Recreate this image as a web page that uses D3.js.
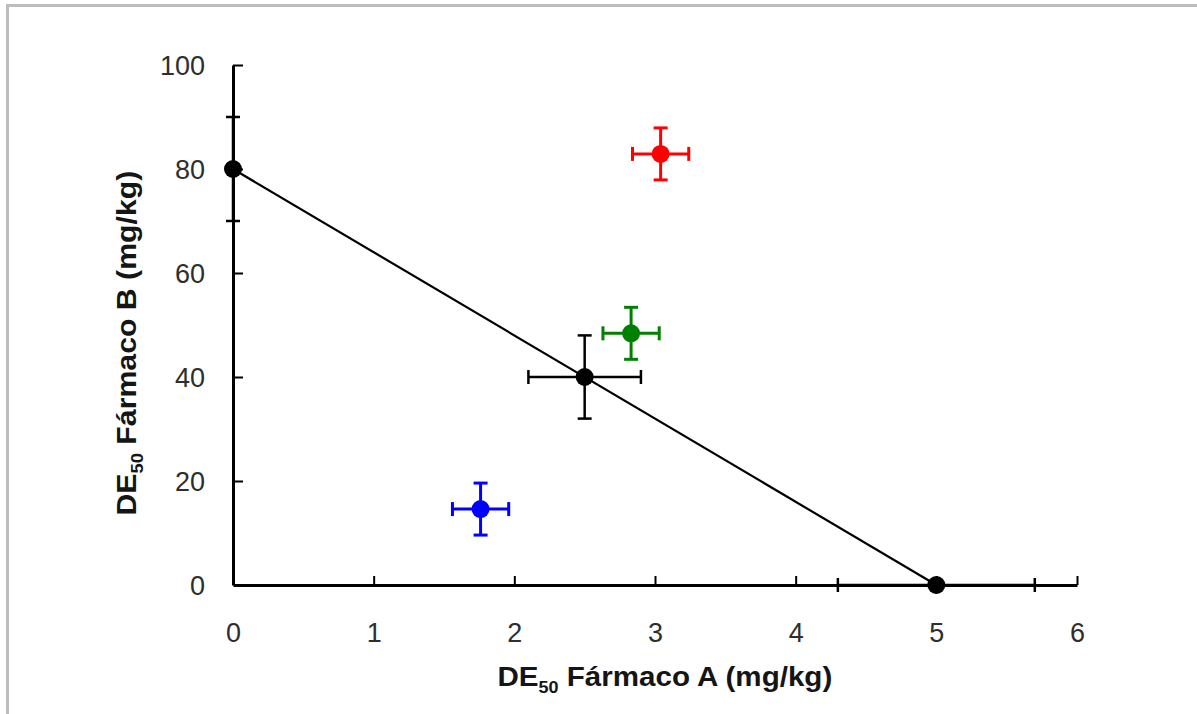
<!DOCTYPE html>
<html><head><meta charset="utf-8">
<script src="https://cdn.jsdelivr.net/npm/d3@7"></script>
<style>body{margin:0;background:#fff}svg{display:block}</style>
</head><body>
<svg id="c" width="1197" height="714"></svg>
<script>
// Data
const pointNames = ["A sola", "B sola", "Aditivo teórico", "Sinergia", "Aditivo", "Antagonismo"];
const doseA = [0, 5, 2.5, 1.76, 2.83, 3.04];
const doseB = [80, 0, 40, 14.6, 48.4, 82.9];
const errA = [0, 0.7, 0.4, 0.2, 0.2, 0.2];
const errB = [10, 0, 8, 5, 5, 5];
const pointColors = ["#000", "#000", "#000", "#0000ff", "#008000", "#ff0000"];
const lineA = [0, 5];
const lineB = [80, 0];
const xTicks = [0, 1, 2, 3, 4, 5, 6];
const yTicks = [0, 20, 40, 60, 80, 100];

const svg = d3.select("#c");
const ff = "Liberation Sans, Arial, sans-serif";
// frame
svg.append("line").attr("x1", 6).attr("x2", 1197).attr("y1", 5.5).attr("y2", 5.5).attr("stroke", "#bdbdbd").attr("stroke-width", 3);
svg.append("line").attr("x1", 7.5).attr("x2", 7.5).attr("y1", 4).attr("y2", 714).attr("stroke", "#bdbdbd").attr("stroke-width", 3);

const x = d3.scaleLinear().domain([0, 6]).range([233, 1077]);
const y = d3.scaleLinear().domain([0, 100]).range([585, 65]);

// axes
const xAxis = d3.axisBottom(x).tickValues(xTicks).tickFormat(d3.format("d")).tickSizeInner(-9).tickSizeOuter(0).tickPadding(38);
const yAxis = d3.axisLeft(y).tickValues(yTicks).tickFormat(d3.format("d")).tickSizeInner(-10).tickSizeOuter(0).tickPadding(28);
const gx = svg.append("g").attr("transform", `translate(0,${y(0)})`).call(xAxis);
const gy = svg.append("g").attr("transform", `translate(${x(0)},0)`).call(yAxis);
[gx, gy].forEach(g => {
  g.select(".domain").attr("stroke", "#000").attr("stroke-width", 3);
  g.selectAll(".tick line").attr("stroke", "#000").attr("stroke-width", 2);
  g.selectAll(".tick text").attr("fill", "#2e2e2e").attr("font-family", ff).attr("font-size", 27);
});
gx.selectAll(".tick").filter(d => d === 0).select("line").remove();
gy.selectAll(".tick").filter(d => d === 0).select("line").remove();
gy.selectAll(".tick text").attr("dy", "0.36em");

// line
svg.append("line")
  .attr("x1", x(lineA[0])).attr("y1", y(lineB[0]))
  .attr("x2", x(lineA[1])).attr("y2", y(lineB[1]))
  .attr("stroke", "#000").attr("stroke-width", 2.2);

// error bars and points
const pts = doseA.map((a, i) => ({a, b: doseB[i], ea: errA[i], eb: errB[i], c: pointColors[i]}));
const g = svg.append("g");
const cap = 7;
pts.forEach(p => {
  const sw = p.c === "#000" ? 2.5 : 3;
  if (p.ea > 0) {
    g.append("line").attr("x1", x(p.a - p.ea)).attr("x2", x(p.a + p.ea)).attr("y1", y(p.b)).attr("y2", y(p.b)).attr("stroke", p.c).attr("stroke-width", sw);
    [p.a - p.ea, p.a + p.ea].forEach(v => g.append("line").attr("x1", x(v)).attr("x2", x(v)).attr("y1", y(p.b) - cap).attr("y2", y(p.b) + cap).attr("stroke", p.c).attr("stroke-width", sw));
  }
  if (p.eb > 0) {
    g.append("line").attr("y1", y(p.b - p.eb)).attr("y2", y(p.b + p.eb)).attr("x1", x(p.a)).attr("x2", x(p.a)).attr("stroke", p.c).attr("stroke-width", sw);
    [p.b - p.eb, p.b + p.eb].forEach(v => g.append("line").attr("y1", y(v)).attr("y2", y(v)).attr("x1", x(p.a) - cap).attr("x2", x(p.a) + cap).attr("stroke", p.c).attr("stroke-width", sw));
  }
  g.append("circle").attr("cx", x(p.a)).attr("cy", y(p.b)).attr("r", 9).attr("fill", p.c);
});

// titles
function title(parent, letter, targetLen) {
  const t = parent.append("text").attr("text-anchor", "start")
    .attr("font-family", ff).attr("font-weight", "bold").attr("font-size", 28).attr("fill", "#151515");
  t.append("tspan").text("DE");
  t.append("tspan").text("50").attr("font-size", 17).attr("dy", 7);
  t.append("tspan").text(` Fármaco ${letter} (mg/kg)`).attr("dy", -7);
  const w = t.node().getComputedTextLength();
  const s = targetLen / w;
  t.attr("transform", `scale(${s},1) translate(${-w / 2},0)`);
  return t;
}
const gxT = svg.append("g").attr("transform", "translate(665,686)");
title(gxT, "A", 335);
const gyT = svg.append("g").attr("transform", "translate(136,343) rotate(-90)");
title(gyT, "B", 345);
</script>
</body></html>
